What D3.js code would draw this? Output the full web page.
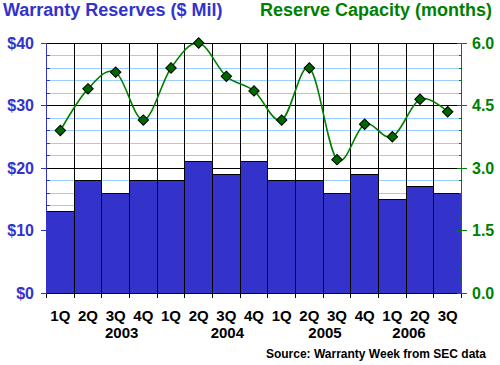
<!DOCTYPE html>
<html>
<head>
<meta charset="utf-8">
<script src="https://cdn.jsdelivr.net/npm/d3@7"></script>
<style>
  html, body { margin: 0; padding: 0; background: #fff; }
  svg { display: block; font-family: Arial, "Liberation Sans", sans-serif; }
</style>
</head>
<body>
<svg id="chart" width="500" height="365"></svg>
<script>
// ---- data ----
const quarters = ["1Q","2Q","3Q","4Q","1Q","2Q","3Q","4Q","1Q","2Q","3Q","4Q","1Q","2Q","3Q"];
const reserves = [13, 18, 16, 18, 18, 21, 19, 21, 18, 18, 16, 19, 15, 17, 16];      // $ Mil
const capacity = [3.9, 4.9, 5.3, 4.15, 5.4, 6.0, 5.2, 4.85, 4.15, 5.4, 3.2, 4.05, 3.75, 4.65, 4.35]; // months
const years = ["2003", "2004", "2005", "2006"];
const yearQuarterIndex = [2, 6, 10, 13];
const leftTicks = [0, 10, 20, 30, 40];
const rightTicks = [0, 1.5, 3, 4.5, 6];

// ---- layout ----
const L = 46.5, R = 461.5, T = 43, B = 293;
const blue = "#3333CC", green = "#008000";
const svg = d3.select("#chart");

const x = d3.scaleBand().domain(d3.range(quarters.length)).range([L, R]).padding(0);
const y = d3.scaleLinear().domain([0, 40]).range([B, T]);
const y2 = d3.scaleLinear().domain([0, 6]).range([B, T]);

// minor gridlines (light blue) every $2
const minor = d3.range(2, 40, 2).filter(v => v % 10 !== 0);
svg.append("g").selectAll("line").data(minor).join("line")
  .attr("x1", L).attr("x2", R).attr("y1", d => y(d)).attr("y2", d => y(d))
  .attr("stroke", "#99CCFF").attr("stroke-width", 1).attr("shape-rendering", "crispEdges");

// major gridlines (black)
svg.append("g").selectAll("line").data([10, 20, 30, 40]).join("line")
  .attr("x1", L).attr("x2", R).attr("y1", d => y(d)).attr("y2", d => y(d))
  .attr("stroke", "#000").attr("stroke-width", 1).attr("shape-rendering", "crispEdges");

// vertical gridlines at category boundaries
svg.append("g").selectAll("line").data(d3.range(1, quarters.length)).join("line")
  .attr("x1", d => x(d)).attr("x2", d => x(d)).attr("y1", T).attr("y2", B)
  .attr("stroke", "#000").attr("stroke-width", 1).attr("shape-rendering", "crispEdges");

// bars
svg.append("g").selectAll("rect").data(reserves).join("rect")
  .attr("x", (d, i) => x(i)).attr("width", x.bandwidth())
  .attr("y", d => y(d)).attr("height", d => y(0) - y(d))
  .attr("fill", blue).attr("stroke", "#000").attr("stroke-width", 1)
  .attr("shape-rendering", "crispEdges");

// x axis ticks
svg.append("g").selectAll("line").data(d3.range(0, quarters.length + 1)).join("line")
  .attr("x1", d => L + d * x.step()).attr("x2", d => L + d * x.step())
  .attr("y1", B).attr("y2", B + 5)
  .attr("stroke", "#000").attr("shape-rendering", "crispEdges");
svg.append("line").attr("x1", L).attr("x2", R).attr("y1", B).attr("y2", B)
  .attr("stroke", "#000").attr("shape-rendering", "crispEdges");

// left axis
const gl = svg.append("g");
gl.append("line").attr("x1", L).attr("x2", L).attr("y1", T).attr("y2", B)
  .attr("stroke", blue).attr("shape-rendering", "crispEdges");
gl.selectAll(".maj").data(leftTicks).join("line").attr("class", "maj")
  .attr("x1", L - 6).attr("x2", L).attr("y1", d => y(d)).attr("y2", d => y(d))
  .attr("stroke", blue).attr("shape-rendering", "crispEdges");
gl.selectAll(".min").data(d3.range(2, 40, 2).filter(v => v % 10 !== 0)).join("line").attr("class", "min")
  .attr("x1", L).attr("x2", L + 3).attr("y1", d => y(d)).attr("y2", d => y(d))
  .attr("stroke", blue).attr("shape-rendering", "crispEdges");
gl.selectAll("text").data(leftTicks).join("text")
  .attr("x", 34).attr("y", d => y(d)).attr("dy", "0.36em")
  .attr("text-anchor", "end").attr("fill", blue)
  .attr("font-size", 16).attr("font-weight", "bold")
  .text(d => "$" + d);

// right axis
const gr = svg.append("g");
gr.append("line").attr("x1", R).attr("x2", R).attr("y1", T).attr("y2", B)
  .attr("stroke", green).attr("shape-rendering", "crispEdges");
gr.selectAll(".maj").data(rightTicks).join("line").attr("class", "maj")
  .attr("x1", R - 5).attr("x2", R + 5).attr("y1", d => y2(d)).attr("y2", d => y2(d))
  .attr("stroke", green).attr("shape-rendering", "crispEdges");
gr.selectAll(".min").data(d3.range(1, 20).filter(v => v % 5 !== 0).map(v => v * 0.3)).join("line").attr("class", "min")
  .attr("x1", R - 3).attr("x2", R).attr("y1", d => y2(d)).attr("y2", d => y2(d))
  .attr("stroke", green).attr("shape-rendering", "crispEdges");
gr.selectAll("text").data(rightTicks).join("text")
  .attr("x", 472).attr("y", d => y2(d)).attr("dy", "0.36em")
  .attr("text-anchor", "start").attr("fill", green)
  .attr("font-size", 16).attr("font-weight", "bold")
  .text(d => d.toFixed(1));

// x labels
svg.append("g").selectAll("text").data(quarters).join("text")
  .attr("x", (d, i) => x(i) + x.bandwidth() / 2).attr("y", 321)
  .attr("text-anchor", "middle").attr("fill", "#000")
  .attr("font-size", 15).attr("font-weight", "bold")
  .text(d => d);
const yearOffsets = [6, 1, -12, -11];
svg.append("g").selectAll("text").data(years).join("text")
  .attr("x", (d, i) => x(yearQuarterIndex[i]) + x.bandwidth() / 2 + yearOffsets[i]).attr("y", 338)
  .attr("text-anchor", "middle").attr("fill", "#000")
  .attr("font-size", 15).attr("font-weight", "bold")
  .text(d => d);

// line
const line = d3.line()
  .x((d, i) => x(i) + x.bandwidth() / 2)
  .y(d => y2(d))
  .curve(d3.curveCardinal.tension(0));
svg.append("path").datum(capacity).attr("d", line)
  .attr("fill", "none").attr("stroke", green).attr("stroke-width", 1.6);

// diamonds
svg.append("g").selectAll("path").data(capacity).join("path")
  .attr("d", d3.symbol().type(d3.symbolSquare).size(55))
  .attr("transform", (d, i) => `translate(${x(i) + x.bandwidth() / 2},${y2(d)}) rotate(45)`)
  .attr("fill", "#006600").attr("stroke", "#000").attr("stroke-width", 1);

// titles
svg.append("text").attr("x", 3).attr("y", 16)
  .attr("fill", blue).attr("font-size", 18).attr("font-weight", "bold")
  .text("Warranty Reserves ($ Mil)");
svg.append("text").attr("x", 492).attr("y", 16).attr("text-anchor", "end")
  .attr("fill", green).attr("font-size", 18).attr("font-weight", "bold")
  .text("Reserve Capacity (months)");
svg.append("text").attr("x", 486).attr("y", 358).attr("text-anchor", "end")
  .attr("fill", "#000").attr("font-size", 12).attr("font-weight", "bold")
  .text("Source: Warranty Week from SEC data");
</script>
</body>
</html>
